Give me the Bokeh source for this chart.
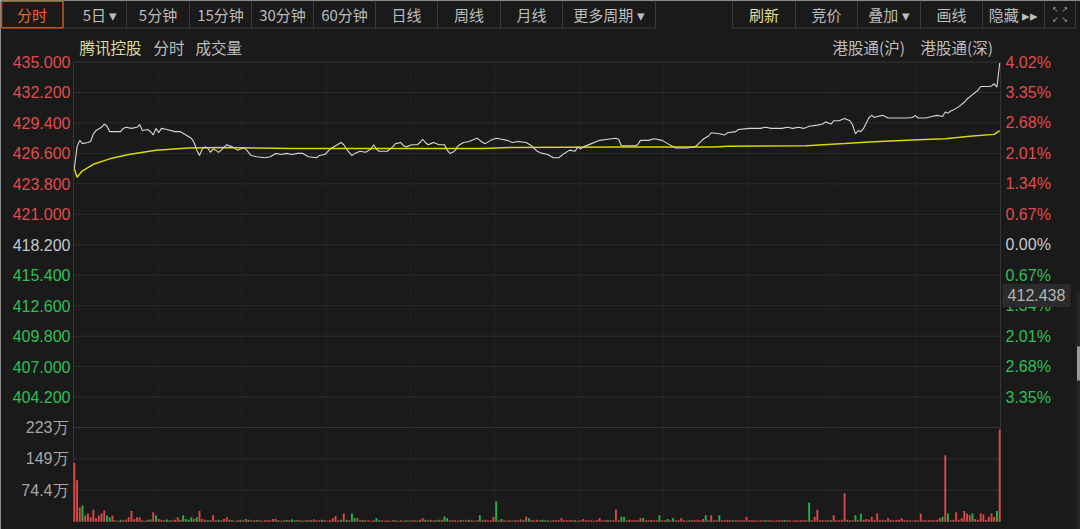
from bokeh.plotting import figure
from bokeh.models import Range1d, ColumnDataSource
from bokeh.embed import file_html
from bokeh.resources import INLINE
from bokeh.core.properties import value

# ---------------- data ----------------
stock_name = "腾讯控股"
prev_close = 418.2
price_ticks = [435.0, 432.2, 429.4, 426.6, 423.8, 421.0, 418.2, 415.4, 412.6, 409.8, 407.0, 404.2]
vol_ticks = [74.4, 149, 223]
vol_tick_text = ["74.4万", "149万", "223万"]
last_marker = 412.438

price_minute = [0, 1, 2, 3, 5, 6, 7, 8, 10, 11, 12, 13, 15, 17, 18, 19, 21, 23, 24, 25, 27, 28, 29, 30, 31, 32, 34,
                37, 39, 41, 43, 44, 45, 46, 47, 48, 49, 50, 51, 52, 53, 54, 56, 58, 60, 62, 63, 65, 67, 70, 72, 74,
                76, 78, 80, 82, 84, 86, 89, 90, 92, 94, 96, 98, 99, 100, 102, 103, 105, 107, 109, 110, 111, 112, 115,
                117, 118, 120, 121, 122, 124, 126, 127, 128, 129, 130, 131, 132, 134, 136, 137, 138, 139, 140, 141,
                143, 145, 147, 148, 150, 151, 153, 155, 157, 159, 161, 163, 166, 168, 170, 172, 174, 176, 178, 180,
                182, 184, 185, 186, 187, 190, 193, 196, 199, 200, 201, 206, 207, 208, 211, 213, 216, 218, 221, 225,
                228, 229, 231, 233, 234, 237, 239, 240, 243, 244, 248, 252, 254, 256, 260, 262, 264, 266, 268, 270,
                273, 275, 276, 278, 279, 281, 283, 285, 286, 287, 288, 289, 290, 291, 292, 293, 294, 295, 297, 299,
                302, 306, 308, 309, 310, 313, 315, 317, 319, 320, 321, 322, 323, 325, 327, 328, 330, 331, 332, 333,
                334, 336, 337, 338, 339, 340]
price_value = [425.2, 427.2, 427.8, 427.5, 427.6, 427.7, 428.4, 428.7, 429.0, 429.3, 429.1, 428.6, 428.6, 428.6,
               428.9, 429.0, 428.9, 429.0, 429.25, 428.7, 428.8, 428.6, 428.3, 428.9, 428.5, 428.9, 428.8, 428.6,
               428.6, 428.3, 428.0, 427.6, 426.9, 426.4, 427.0, 427.2, 427.1, 426.7, 427.0, 426.9, 426.7, 426.9,
               427.4, 427.2, 426.9, 427.1, 427.0, 426.4, 426.3, 426.2, 426.3, 426.6, 426.5, 426.6, 426.5, 426.6,
               426.6, 426.3, 426.2, 426.4, 426.5, 427.0, 427.3, 427.6, 427.4, 427.0, 426.4, 426.6, 426.8, 426.7,
               427.0, 427.4, 427.0, 426.8, 426.8, 427.2, 427.5, 427.6, 427.3, 427.2, 427.4, 427.4, 427.6, 427.9,
               427.6, 427.4, 427.5, 427.6, 427.4, 427.4, 426.9, 426.6, 426.7, 426.9, 427.3, 427.6, 427.7, 427.9,
               428.0, 427.6, 427.5, 427.8, 428.0, 427.9, 427.8, 427.6, 427.7, 427.6, 427.3, 426.8, 426.6, 426.5,
               426.2, 426.2, 426.6, 426.9, 426.8, 427.2, 427.0, 427.2, 427.5, 427.8, 427.9, 428.0, 427.9, 427.3,
               427.3, 427.4, 427.8, 427.8, 427.95, 427.8, 427.5, 427.1, 427.1, 427.2, 427.4, 427.9, 428.2, 428.5,
               428.4, 428.3, 428.5, 428.6, 428.8, 428.9, 428.9, 429.0, 428.9, 428.9, 429.0, 428.9, 429.0, 428.9,
               429.1, 429.2, 429.3, 429.5, 429.3, 429.6, 429.6, 429.8, 429.6, 429.2, 428.4, 428.7, 428.6, 428.9,
               429.4, 429.9, 430.1, 429.9, 430.0, 430.1, 429.85, 429.85, 429.85, 429.9, 430.1, 429.85, 429.85,
               430.0, 430.1, 430.0, 430.4, 430.3, 430.5, 430.6, 430.9, 431.3, 431.6, 432.0, 432.2, 432.4, 432.75,
               432.75, 432.75, 432.8, 433.0, 432.7, 434.9]

avg_minute = [0, 1, 3, 7, 13, 20, 30, 42, 54, 80, 150, 160, 200, 235, 240, 269, 283, 292, 310, 320, 330, 338, 340]
avg_value = [425.2, 424.4, 425.0, 425.6, 426.1, 426.5, 426.9, 427.1, 427.15, 427.05, 427.05, 427.15, 427.2, 427.2,
             427.25, 427.3, 427.5, 427.65, 427.85, 427.95, 428.2, 428.35, 428.7]

volume = [139, 98, 33, 38, 14, 19, 10, 28, 8, 14,
          19, 26, 14, 10, 14, 3, 2, 4, 3, 5,
          10, 25, 6, 10, 10, 3, 2, 4, 5, 22,
          14, 6, 4, 3, 5, 3, 3, 4, 10, 4,
          15, 6, 4, 10, 6, 10, 25, 6, 4, 3,
          3, 15, 3, 4, 3, 6, 10, 4, 3, 2,
          3, 4, 3, 6, 4, 3, 3, 4, 3, 2,
          3, 4, 3, 6, 6, 3, 2, 3, 4, 3,
          5, 3, 4, 3, 2, 3, 4, 3, 5, 3,
          3, 4, 3, 2, 4, 8, 13, 3, 4, 19,
          4, 3, 19, 8, 8, 3, 4, 3, 3, 2,
          3, 8, 3, 3, 2, 3, 2, 3, 3, 2,
          3, 2, 3, 2, 3, 3, 2, 4, 8, 4,
          3, 4, 3, 3, 4, 4, 12, 8, 3, 3,
          3, 2, 4, 3, 3, 4, 3, 2, 3, 15,
          3, 4, 3, 3, 11, 48, 3, 6, 3, 2,
          3, 2, 3, 3, 5, 3, 12, 8, 4, 3,
          4, 3, 4, 3, 3, 2, 3, 3, 3, 8,
          3, 3, 4, 3, 3, 2, 3, 6, 3, 3,
          3, 2, 3, 8, 3, 3, 4, 3, 3, 28,
          3, 11, 11, 3, 4, 3, 3, 3, 8, 8,
          3, 3, 4, 3, 3, 15, 3, 3, 6, 3,
          8, 3, 3, 8, 3, 2, 3, 3, 3, 4,
          3, 6, 15, 3, 15, 3, 3, 15, 3, 3,
          4, 3, 3, 3, 3, 3, 3, 11, 3, 3,
          3, 2, 3, 3, 4, 3, 3, 2, 3, 3,
          3, 4, 3, 3, 2, 3, 3, 3, 3, 3,
          45, 3, 11, 28, 3, 3, 3, 3, 3, 15,
          3, 3, 4, 67, 4, 3, 3, 15, 4, 19,
          4, 6, 4, 11, 4, 19, 3, 4, 3, 8,
          4, 3, 4, 4, 8, 3, 3, 3, 2, 3,
          3, 19, 3, 3, 3, 4, 3, 4, 8, 11,
          157, 19, 3, 4, 22, 4, 8, 25, 19, 15,
          19, 6, 4, 19, 17, 4, 11, 19, 11, 25, 218]
volume_dir = ("uuuduuuuuu" "uudduuuduu" "uuuuuududu" "duuudduuuu" "dddduduuud" "uuuduuuudu"
              "uduuduuduu" "uuuuuduudu" "dduuduuduu" "uduuuuuudu" "dudduuduuu" "udduuuuudu"
              "uuduuuduud" "duuduudduu" "uuduuduuud" "uuuuududuu" "uduuududuu" "uudduduuuu"
              "uuuuduuuuu" "uuuuuuduuu" "udduuuuuud" "uuuuuduudu" "duuuuuduuu" "uuduuuuduu"
              "uuduuuuuuu" "uuuuduuuuu" "uduuuuuuuu" "duuuuuuudu" "uuuuduudud" "uuuuuuuudu"
              "uuuuuuuuuu" "uuuuuuuuud" "uduuuuuuuu" "duuuuuuuudu")

tabs_left = ["分时", "5日 ▾", "5分钟", "15分钟", "30分钟", "60分钟", "日线", "周线", "月线", "更多周期 ▾"]
tabs_right = ["刷新", "竞价", "叠加 ▾", "画线", "隐藏 ▸▸"]
channels = ["港股通(沪)", "港股通(深)"]
panel_names = ["分时", "成交量"]

# ---------------- style / layout (pixel geometry of the page) ----------------
BG = "#1a1a1a"
GRID = "#2b2b2b"
EDGE = "#363636"
VGRID = "#303030"
RED = "#e04c4c"
GREEN = "#2fbf55"
NEUTRAL = "#c4c8d0"
BAR_RED = "#d94848"
BAR_GREEN = "#22b24c"
TXT = "#bdbdbd"
NUM_FONT = "Liberation Sans"
CJK = "Noto Sans CJK SC"
W, H = 1080, 529

FRAME_L, FRAME_R = 73, 1000          # data area, page pixels
PRICE_TOP_Y = 61.0                   # page y of top of price area
PPX = 0.09194                        # price per pixel
VOL_TOP_Y, VOL_BOT_Y = 427.0, 521.0  # volume panel page y

X0, X1 = -0.3, 340.3
ppu = (FRAME_R - FRAME_L) / (X1 - X0)
price_top = 435.05
vol_ppx = (VOL_BOT_Y - VOL_TOP_Y) / 223.0

p = figure(width=W, height=H, x_range=Range1d(0, W), y_range=Range1d(H, 0),
           x_axis_type=None, y_axis_type=None, output_backend="svg", toolbar_location=None, title=None,
           min_border=0, background_fill_color=BG, border_fill_color=BG, outline_line_color=None)
p.extra_x_ranges = {"t": Range1d(X0 - FRAME_L / ppu, X1 + (W - FRAME_R) / ppu)}
p.extra_y_ranges = {
    "price": Range1d(price_top - (H - PRICE_TOP_Y) * PPX, price_top + PRICE_TOP_Y * PPX),
    "vol": Range1d(-(H - VOL_BOT_Y) / vol_ppx, VOL_BOT_Y / vol_ppx),
}

# ---------- toolbar strip ----------
left_edges = [0, 63, 126, 189, 251, 313, 375, 437, 500, 562, 655]
right_edges = [732, 795, 857, 920, 982, 1044, 1075]
left_centers = [(a + b) / 2 for a, b in zip(left_edges[:-1], left_edges[1:])]
left_centers[1] += 5
right_centers = [(a + b) / 2 for a, b in zip(right_edges[:-2], right_edges[1:-1])]
seps = left_edges[1:] + right_edges
p.segment(x0=seps, x1=seps, y0=[0] * len(seps), y1=[27.5] * len(seps), line_color="#3a3a3a", line_width=1)
p.segment(x0=[0, 732], x1=[655, 1075], y0=[27.5, 27.5], y1=[27.5, 27.5], line_color="#3a3a3a", line_width=1)
p.quad(left=[1], right=[62.5], top=[0.8], bottom=[27.2], fill_color=None, line_color="#c4511d", line_width=1.5)
p.text(x=left_centers, y=[14] * len(tabs_left), text=tabs_left,
       text_color=["#e8692a"] + [TXT] * (len(tabs_left) - 1),
       text_align="center", text_baseline="middle", text_font=value(CJK), text_font_size="15px")
p.text(x=right_centers, y=[14] * len(tabs_right), text=tabs_right,
       text_color=["#e2dc96"] + [TXT] * (len(tabs_right) - 1),
       text_align="center", text_baseline="middle", text_font=value(CJK), text_font_size="15px")
p.text(x=[1059.5, 1059.5], y=[9, 19], text=["↖ ↗", "↙ ↘"], text_color="#9a9a9a",
       text_align="center", text_baseline="middle", text_font=value("DejaVu Sans"), text_font_size="8px")

# ---------- header row ----------
p.text(x=[79], y=[46], text=[stock_name], text_color="#dede9c", text_align="left", text_baseline="middle",
       text_font=value(CJK), text_font_size="15.5px")
p.text(x=[153, 195], y=[46, 46], text=panel_names, text_color=TXT, text_align="left", text_baseline="middle",
       text_font=value(CJK), text_font_size="15.5px")
p.text(x=[832, 920], y=[46, 46], text=channels, text_color=TXT, text_align="left", text_baseline="middle",
       text_font=value(CJK), text_font_size="15.5px")

# ---------- panels: frames and grids ----------
step = price_ticks[0] - price_ticks[1]
p.quad(left=[X0], right=[X1], bottom=[price_ticks[-1] - step], top=[price_ticks[0]], fill_color=None,
       line_color=EDGE, line_width=1, x_range_name="t", y_range_name="price")
p.quad(left=[X0], right=[X1], bottom=[0], top=[vol_ticks[-1]], fill_color=None,
       line_color=EDGE, line_width=1, x_range_name="t", y_range_name="vol")
p.segment(x0=[X0] * len(price_ticks), x1=[X1] * len(price_ticks), y0=price_ticks, y1=price_ticks,
          line_color=GRID, line_width=1, x_range_name="t", y_range_name="price")
p.segment(x0=[X0] * 2, x1=[X1] * 2, y0=vol_ticks[:2], y1=vol_ticks[:2],
          line_color=GRID, line_width=1, x_range_name="t", y_range_name="vol")
XSTEP = (X1 - X0) / 11
xgrid = [X0 + k * XSTEP for k in range(1, 11)]
p.segment(x0=xgrid, x1=xgrid, y0=[price_ticks[-1] - step] * len(xgrid), y1=[price_ticks[0]] * len(xgrid),
          line_color=VGRID, line_dash="1 2", line_width=1, x_range_name="t", y_range_name="price")
p.segment(x0=xgrid, x1=xgrid, y0=[0] * len(xgrid), y1=[vol_ticks[-1]] * len(xgrid),
          line_color=VGRID, line_dash="1 2", line_width=1, x_range_name="t", y_range_name="vol")

# ---------- series ----------
p.line(avg_minute, avg_value, line_color="#d8d800", line_width=1.5, x_range_name="t", y_range_name="price")
p.line(price_minute, price_value, line_color="#d6d6d6", line_width=1.1, x_range_name="t", y_range_name="price")
src = ColumnDataSource(dict(x=list(range(len(volume))), top=volume,
                            color=[BAR_RED if d == "u" else BAR_GREEN for d in volume_dir]))
p.vbar(x="x", top="top", width=0.7, bottom=0, fill_color="color", line_color=None, source=src,
       x_range_name="t", y_range_name="vol")

# ---------- tick labels ----------
def tick_color(t):
    if abs(t - prev_close) < 1e-6:
        return NEUTRAL
    return RED if t > prev_close else GREEN

colors = [tick_color(t) for t in price_ticks]
p.text(x=[FRAME_L - 3] * len(price_ticks), y=price_ticks, text=[f"{t:.3f}" for t in price_ticks],
       text_color=colors, text_align="right", text_baseline="middle", text_font=value(NUM_FONT),
       text_font_size="16px", y_range_name="price")
pct_text = [f"{abs(t - prev_close) / prev_close * 100:.2f}%" for t in price_ticks]
p.text(x=[FRAME_R + 5] * len(price_ticks), y=price_ticks, text=pct_text,
       text_color=colors, text_align="left", text_baseline="middle", text_font=value(NUM_FONT),
       text_font_size="16px", y_range_name="price")
p.text(x=[FRAME_L - 5] * len(vol_ticks), y=vol_ticks, text=vol_tick_text, text_color="#a6a6a6",
       text_align="right", text_baseline="middle", text_font=value(NUM_FONT), text_font_size="16px",
       y_range_name="vol")

# ---------- last-price marker box ----------
marker_y = last_marker + 12 * PPX
p.rect(x=[1036], y=[marker_y], width=[68], height=[23 * PPX], fill_color="#2b2b2b", line_color=None,
       y_range_name="price")
p.text(x=[1036], y=[marker_y], text=[f"{last_marker:.3f}"], text_color="#b4b4b4", text_align="center",
       text_baseline="middle", text_font=value(NUM_FONT), text_font_size="16px", y_range_name="price")

# ---------- right scrollbar ----------
p.quad(left=[1076], right=[1080], top=[289], bottom=[529], fill_color="#242424", line_color=None)
p.quad(left=[1076.5], right=[1079.5], top=[346], bottom=[380], fill_color="#9a9a9a", line_color=None)

open("out.html", "w").write(file_html(p, INLINE))
